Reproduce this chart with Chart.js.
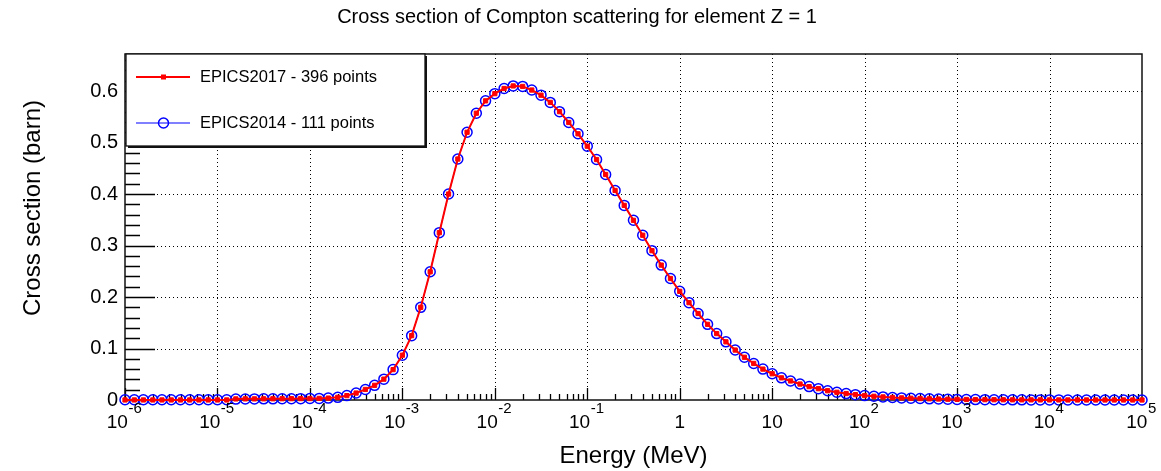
<!DOCTYPE html>
<html>
<head>
<meta charset="utf-8">
<title>Cross section of Compton scattering for element Z = 1</title>
<script src="https://cdn.jsdelivr.net/npm/chart.js@4/dist/chart.umd.min.js"></script>
<style>
  html, body { margin: 0; padding: 0; background: #fff; }
  #wrap { width: 1161px; height: 471px; }
</style>
</head>
<body>
<div id="wrap"><canvas id="xsChart" width="1161" height="471"></canvas></div>
<script>
// -----------------------------
// DATA
// -----------------------------
const energy = [
  1e-6, 1.26e-6, 1.58e-6, 2e-6, 2.51e-6, 3.16e-6, 3.98e-6, 5.01e-6, 6.31e-6, 7.94e-6,
  1e-5, 1.26e-5, 1.58e-5, 2e-5, 2.51e-5, 3.16e-5, 3.98e-5, 5.01e-5, 6.31e-5, 7.94e-5,
  1e-4, 1.26e-4, 1.58e-4, 2e-4, 2.51e-4, 3.16e-4, 3.98e-4, 5.01e-4, 6.31e-4, 7.94e-4,
  1e-3, 1.26e-3, 1.58e-3, 2e-3, 2.51e-3, 3.16e-3, 3.98e-3, 5.01e-3, 6.31e-3, 7.94e-3,
  1e-2, 1.26e-2, 1.58e-2, 2e-2, 2.51e-2, 3.16e-2, 3.98e-2, 5.01e-2, 6.31e-2, 7.94e-2,
  0.1, 0.126, 0.158, 0.2, 0.251, 0.316, 0.398, 0.501, 0.631, 0.794,
  1, 1.26, 1.58, 2, 2.51, 3.16, 3.98, 5.01, 6.31, 7.94,
  10, 12.6, 15.8, 20, 25.1, 31.6, 39.8, 50.1, 63.1, 79.4,
  100, 126, 158, 200, 251, 316, 398, 501, 631, 794,
  1e3, 1.26e3, 1.58e3, 2e3, 2.51e3, 3.16e3, 3.98e3, 5.01e3, 6.31e3, 7.94e3,
  1e4, 1.26e4, 1.58e4, 2e4, 2.51e4, 3.16e4, 3.98e4, 5.01e4, 6.31e4, 7.94e4,
  1e5
];

// cross section in barn, EPICS2017 (red line)
const epics2017 = [
  0.0001, 0.0001, 0.0001, 0.0001, 0.0001, 0.0001, 0.0001, 0.0001, 0.0001, 0.0001,
  0.0001, 0.0001, 0.0021, 0.0022, 0.0022, 0.0023, 0.0024, 0.0025, 0.0026, 0.0027,
  0.0028, 0.0031, 0.0037, 0.0052, 0.0085, 0.0135, 0.0205, 0.0285, 0.0405, 0.059,
  0.087, 0.125, 0.18, 0.249, 0.325, 0.4, 0.468, 0.52, 0.557, 0.581,
  0.595, 0.605, 0.61, 0.609, 0.602, 0.592, 0.578, 0.56, 0.539, 0.517,
  0.493, 0.467, 0.438, 0.407, 0.378, 0.349, 0.32, 0.29, 0.262, 0.236,
  0.211, 0.189, 0.168, 0.147, 0.129, 0.113, 0.097, 0.083, 0.071, 0.06,
  0.051, 0.043, 0.037, 0.031, 0.026, 0.022, 0.018, 0.015, 0.0125, 0.0104,
  0.0086, 0.0072, 0.006, 0.0049, 0.0041, 0.0034, 0.0028, 0.0023, 0.0019, 0.0015,
  0.0012, 0.001, 0.00082, 0.00067, 0.00055, 0.00045, 0.00036, 0.0003, 0.00024, 0.0002,
  0.00016, 0.00013, 0.00011, 0.00009, 0.00007, 0.00006, 0.00005, 0.00004, 0.00003, 0.000025,
  0.00002
];

// cross section in barn, EPICS2014 (blue open circles)
const epics2014 = [
  0.0004, 0.0004, 0.0004, 0.0004, 0.0004, 0.0004, 0.0004, 0.0004, 0.0004, 0.0004,
  0.0005, 0.0006, 0.0018, 0.002, 0.0021, 0.0022, 0.0023, 0.0024, 0.0025, 0.0026,
  0.0028, 0.0031, 0.0037, 0.0052, 0.0085, 0.0135, 0.0205, 0.0285, 0.0405, 0.059,
  0.087, 0.125, 0.18, 0.249, 0.325, 0.4, 0.468, 0.52, 0.557, 0.581,
  0.595, 0.605, 0.61, 0.609, 0.602, 0.592, 0.578, 0.56, 0.539, 0.517,
  0.493, 0.467, 0.438, 0.407, 0.378, 0.349, 0.32, 0.29, 0.262, 0.236,
  0.211, 0.189, 0.168, 0.147, 0.129, 0.113, 0.097, 0.083, 0.071, 0.06,
  0.051, 0.043, 0.037, 0.031, 0.026, 0.022, 0.018, 0.015, 0.0125, 0.0104,
  0.0086, 0.0072, 0.006, 0.0049, 0.0041, 0.0034, 0.0028, 0.0023, 0.0019, 0.0015,
  0.0012, 0.001, 0.00082, 0.00067, 0.00055, 0.00045, 0.00036, 0.0003, 0.00024, 0.0002,
  0.00016, 0.00013, 0.00011, 0.00009, 0.00007, 0.00006, 0.00005, 0.00004, 0.00003, 0.000025,
  0.00002
];

// axis ticks and labels
const xTickValues = [1e-6, 1e-5, 1e-4, 1e-3, 1e-2, 1e-1, 1, 10, 1e2, 1e3, 1e4, 1e5];
const xTickLabels = [
  ['10', '-6'], ['10', '-5'], ['10', '-4'], ['10', '-3'], ['10', '-2'], ['10', '-1'],
  ['1', ''], ['10', ''], ['10', '2'], ['10', '3'], ['10', '4'], ['10', '5']
];
const yTickValues = [0, 0.1, 0.2, 0.3, 0.4, 0.5, 0.6];

const chartTitle = 'Cross section of Compton scattering for element Z = 1';
const xTitle = 'Energy (MeV)';
const yTitle = 'Cross section (barn)';

const FONT = "'Liberation Sans', Arial, Helvetica, sans-serif";
const Y_MAX = 0.672;

// -----------------------------
// ROOT-like frame, grid, ticks, legend and labels
// -----------------------------
const rootStyle = {
  id: 'rootStyle',

  beforeDatasetsDraw(chart) {
    const { ctx, chartArea: a, scales: { x, y } } = chart;
    ctx.save();

    // dotted grid
    ctx.strokeStyle = '#000';
    ctx.lineWidth = 1;
    ctx.setLineDash([1, 3]);
    ctx.beginPath();
    xTickValues.forEach(v => {
      const px = Math.round(x.getPixelForValue(v)) + 0.5;
      if (px <= a.left + 2 || px >= a.right - 2) return;
      ctx.moveTo(px, a.top);
      ctx.lineTo(px, a.bottom);
    });
    yTickValues.forEach(v => {
      const py = Math.round(y.getPixelForValue(v)) + 0.5;
      if (py >= a.bottom - 2) return;
      ctx.moveTo(a.left, py);
      ctx.lineTo(a.right, py);
    });
    ctx.stroke();
    ctx.setLineDash([]);

    // tick marks (inside the frame)
    ctx.lineWidth = 1.3;
    ctx.beginPath();
    for (let e = -6; e < 5; e++) {
      for (let m = 1; m <= 9; m++) {
        const px = Math.round(x.getPixelForValue(m * Math.pow(10, e))) + 0.5;
        const len = m === 1 ? 12 : 6;
        ctx.moveTo(px, a.bottom);
        ctx.lineTo(px, a.bottom - len);
      }
    }
    for (let k = 0; k * 0.02 <= Y_MAX; k++) {
      const py = Math.round(y.getPixelForValue(k * 0.02)) + 0.5;
      const len = k % 5 === 0 ? 30 : 15;
      ctx.moveTo(a.left, py);
      ctx.lineTo(a.left + len, py);
    }
    ctx.stroke();

    // frame
    ctx.lineWidth = 1.5;
    ctx.strokeStyle = '#111';
    ctx.strokeRect(a.left, a.top, a.right - a.left, a.bottom - a.top);
    ctx.restore();
  },

  afterDatasetsDraw(chart) {
    const { ctx, chartArea: a } = chart;
    const ds = chart.data.datasets;
    const bx = a.left + 1, by = a.top, bw = 299, bh = 92;
    ctx.save();
    ctx.fillStyle = '#fff';
    ctx.fillRect(bx, by, bw, bh);
    ctx.strokeStyle = '#111';
    ctx.lineWidth = 1.3;
    ctx.strokeRect(bx, by, bw, bh);
    // little shadow on right and bottom, like ROOT
    ctx.lineWidth = 2;
    ctx.beginPath();
    ctx.moveTo(bx + bw + 1, by + 2);
    ctx.lineTo(bx + bw + 1, by + bh + 1);
    ctx.lineTo(bx + 2, by + bh + 1);
    ctx.stroke();

    const rows = [by + 23, by + 69];
    ds.forEach((d, i) => {
      const ry = rows[i];
      ctx.strokeStyle = d.borderColor;
      ctx.lineWidth = d.borderWidth;
      ctx.beginPath();
      ctx.moveTo(bx + 10, ry);
      ctx.lineTo(bx + 64, ry);
      ctx.stroke();
      if (d.pointStyle === 'rect') {
        ctx.fillStyle = d.pointBackgroundColor;
        ctx.fillRect(bx + 35, ry - 2.5, 5, 5);
      } else {
        ctx.lineWidth = d.pointBorderWidth;
        ctx.beginPath();
        ctx.arc(bx + 37.5, ry, d.pointRadius, 0, Math.PI * 2);
        ctx.stroke();
      }
      ctx.fillStyle = '#000';
      ctx.font = `16.5px ${FONT}`;
      ctx.textAlign = 'left';
      ctx.textBaseline = 'middle';
      ctx.fillText(d.label, bx + 74, ry);
    });
    ctx.restore();
  },

  afterDraw(chart) {
    const { ctx, chartArea: a, scales: { x } } = chart;
    ctx.save();
    ctx.fillStyle = '#000';
    ctx.textBaseline = 'alphabetic';
    ctx.textAlign = 'left';

    // x tick labels with exponents
    xTickValues.forEach((v, i) => {
      const px = x.getPixelForValue(v);
      const [base, exp] = xTickLabels[i];
      ctx.font = `19px ${FONT}`;
      const wb = ctx.measureText(base).width;
      ctx.font = `15px ${FONT}`;
      const we = exp ? ctx.measureText(exp).width : 0;
      const x0 = px - (wb + we) / 2 - (exp ? 1 : 0);
      ctx.font = `19px ${FONT}`;
      ctx.fillText(base, x0, 428);
      if (exp) {
        ctx.font = `15px ${FONT}`;
        ctx.fillText(exp, x0 + wb + 0.5, 413);
      }
    });

    // axis titles
    ctx.font = `24px ${FONT}`;
    ctx.textAlign = 'center';
    ctx.fillText(xTitle, (a.left + a.right) / 2, 463);

    ctx.save();
    ctx.translate(33, 208);
    ctx.rotate(-Math.PI / 2);
    ctx.textBaseline = 'middle';
    ctx.fillText(yTitle, 0, 0);
    ctx.restore();

    // main title
    ctx.font = `20px ${FONT}`;
    ctx.textBaseline = 'alphabetic';
    ctx.fillText(chartTitle, 577, 23);
    ctx.restore();
  }
};

// -----------------------------
// CHART
// -----------------------------
const toPoints = vals => energy.map((e, i) => ({ x: e, y: vals[i] }));

new Chart(document.getElementById('xsChart'), {
  type: 'scatter',
  data: {
    datasets: [{
      label: 'EPICS2017 - 396 points',
      data: toPoints(epics2017),
      showLine: true,
      borderColor: '#ff0000',
      borderWidth: 2,
      pointStyle: 'rect',
      pointRadius: 3,
      pointBorderWidth: 1,
      pointBorderColor: '#ff0000',
      pointBackgroundColor: '#ff0000',
      clip: false
    }, {
      label: 'EPICS2014 - 111 points',
      data: toPoints(epics2014),
      showLine: true,
      borderColor: '#0000ff',
      borderWidth: 1,
      pointStyle: 'circle',
      pointRadius: 5,
      pointBorderWidth: 1.5,
      pointBorderColor: '#0000ff',
      pointBackgroundColor: 'rgba(0,0,0,0)',
      clip: false
    }]
  },
  options: {
    responsive: false,
    animation: false,
    devicePixelRatio: 1,
    layout: { padding: { top: 54, right: 19, bottom: 0, left: 0 } },
    plugins: {
      legend: { display: false },
      title: { display: false },
      tooltip: { enabled: false }
    },
    scales: {
      x: {
        type: 'logarithmic',
        min: 1e-6,
        max: 1e5,
        ticks: { display: false },
        grid: { display: false, drawTicks: false },
        border: { display: false },
        afterFit: s => { s.height = 71; }
      },
      y: {
        type: 'linear',
        min: 0,
        max: Y_MAX,
        ticks: {
          stepSize: 0.1,
          includeBounds: false,
          padding: 7,
          color: '#000',
          font: { family: FONT, size: 20 },
          callback: v => String(+v.toFixed(1))
        },
        grid: { display: false, drawTicks: false },
        border: { display: false },
        afterFit: s => { s.width = 125; }
      }
    }
  },
  plugins: [rootStyle]
});
</script>
</body>
</html>
